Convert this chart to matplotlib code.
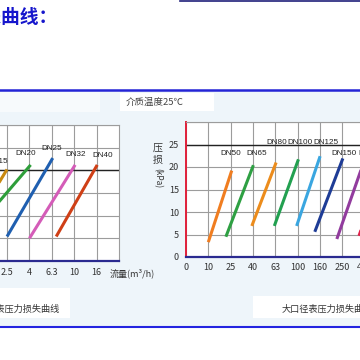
import numpy as np
import matplotlib
matplotlib.use("Agg")
import matplotlib.pyplot as plt
from matplotlib.patches import Rectangle
from matplotlib.lines import Line2D

plt.rcParams['font.family'] = ['Noto Sans CJK SC', 'DejaVu Sans']
NARROW = ['Liberation Sans Narrow', 'Liberation Sans', 'DejaVu Sans']

# ---------------- data ----------------
# small-bore meters: flow axis categories (m3/h)
small_ticks = [1, 1.6, 2.5, 4, 6.3, 10, 16, 25]
small_names = ['DN15', 'DN20', 'DN25', 'DN32', 'DN40']
small_q_start = [1.06, 1.12, 2.5, 4.0, 6.9]
small_q_end = [2.5, 4.1, 6.42, 10.2, 16.2]
small_dp_start = [5.0, 5.0, 5.4, 5.0, 5.4]
small_dp_end = [20.2, 21.2, 22.7, 21.2, 21.2]

# large-bore meters
large_ticks = [0, 10, 25, 40, 63, 100, 160, 250, 400]
large_names = ['DN50', 'DN65', 'DN80', 'DN100', 'DN125', 'DN150', 'DN200', 'DN250']
large_q_start = [10, 20.6, 39.1, 61.9, 98.2, 144, 225, 357]
large_q_end = [25.6, 40.4, 64.2, 102, 161, 254, 400, 610]
large_dp_start = [3.3, 4.5, 6.9, 6.9, 6.9, 5.6, 4.0, 4.7]
large_dp_end = [19.2, 20.4, 21.0, 21.7, 22.4, 21.9, 21.5, 21.0]

# ---------------- styles ----------------
small_colors = ['#c8880f', '#2e9e3a', '#1f5fb0', '#d45cb8', '#cf3f16']
large_colors = ['#f07d20', '#2ea043', '#ec8c1c', '#22a050', '#3aa6e0',
                '#1e3c96', '#923c9e', '#e0204a']
small_label_pos = [(1.6, 21.9), (2.85, 23.7), (3.98, 24.8), (5.06, 23.4), (6.29, 23.2)]
large_label_pos = [(2.0, 23.0), (3.16, 23.0), (4.08, 25.4), (5.1, 25.4), (6.28, 25.4),
                   (7.09, 23.0), (8.3, 23.0), (9.4, 23.0)]


def flow_to_pos(q, ticks, first=0):
    """Map a flow value onto the equally spaced category axis (log between ticks)."""
    t = np.log(np.asarray(ticks[first:], float))
    idx = np.arange(first, len(ticks), dtype=float)
    lq = np.log(q)
    if lq > t[-1]:
        return idx[-1] + (lq - t[-1]) / (t[-1] - t[-2])
    if lq < t[0]:
        return idx[0] - (t[0] - lq) / (t[1] - t[0])
    return float(np.interp(lq, t, idx))


W = H = 360
fig = plt.figure(figsize=(3.6, 3.6), dpi=100)
fig.patch.set_facecolor('white')


def fx(x):
    return x / W


def fy(y):
    return 1 - y / H


def rect(x0, y0, x1, y1, color, z=-2):
    fig.add_artist(Rectangle((fx(x0), fy(y1)), fx(x1) - fx(x0), fy(y0) - fy(y1),
                             transform=fig.transFigure, facecolor=color,
                             edgecolor='none', zorder=z))


def hline(y, x0, x1, color, lw):
    fig.add_artist(Line2D([fx(x0), fx(x1)], [fy(y), fy(y)], transform=fig.transFigure,
                          color=color, lw=lw, zorder=3))


# panel background and white text boxes
rect(0, 90, 360, 327, '#eef5fa', z=-3)
rect(0, 92, 100, 112, '#f7fafc')
rect(120, 93, 214, 111, '#ffffff')
rect(0, 288, 70, 318, '#ffffff')
rect(253, 296, 360, 318, '#ffffff')

hline(0.6, 180, 360, '#20207a', 1.2)
hline(89.5, 0, 360, '#2424d6', 1.8)
hline(327, 0, 360, '#2424e0', 1.5)

fig.text(fx(-73), fy(17), '压力损失曲线：', color='#1616cc', fontsize=13.5,
         fontweight='bold', ha='left', va='center')
fig.text(fx(155), fy(102), '介质温度25℃', color='#444444', fontsize=6.8,
         ha='center', va='center')


def style_axes(ax, dark):
    ax.set_facecolor('white')
    ax.set_ylim(0, 30)
    ax.set_yticks(np.arange(0, 31, 5))
    ax.grid(True, color='#9c9c9c', lw=0.8)
    ax.set_axisbelow(True)
    ax.axhline(dark, color='#222222', lw=1.0, zorder=1.5)
    ax.tick_params(length=0, labelsize=6.5, labelcolor='#333333')
    ax.spines['left'].set_color('#e0203a')
    ax.spines['left'].set_linewidth(1.4)
    ax.spines['bottom'].set_color('#2a2a90')
    ax.spines['bottom'].set_linewidth(1.6)
    for s in ('top', 'right'):
        ax.spines[s].set_color('#9c9c9c')
        ax.spines[s].set_linewidth(0.8)


# ---- small-bore chart ----
axL = fig.add_axes([fx(-51.2), fy(261), 170.2 / W, 136 / H])
style_axes(axL, 20)
axL.set_xlim(-0.6, 7)
axL.set_xticks(range(7))
axL.set_xticklabels([str(t) for t in small_ticks[:7]])
axL.tick_params(axis='x', pad=5)
for name, q0, q1, d0, d1, c, (lx, ly) in zip(small_names, small_q_start, small_q_end,
                                              small_dp_start, small_dp_end,
                                              small_colors, small_label_pos):
    axL.plot([flow_to_pos(q0, small_ticks), flow_to_pos(q1, small_ticks)], [d0, d1],
             color=c, lw=2.2, solid_capstyle='butt', zorder=3)
    axL.text(lx, ly, name, fontsize=5.9, family=NARROW, color='#222222',
             ha='center', va='center')
fig.text(fx(110), fy(273), '流量(m³/h)', fontsize=6.5, color='#333333',
         ha='left', va='center')
fig.text(fx(60), fy(309), '小口径表压力损失曲线', fontsize=6.6, color='#333333',
         ha='right', va='center')

# ---- large-bore chart ----
axR = fig.add_axes([fx(186), fy(257), 200.7 / W, 135 / H])
style_axes(axR, 25)
axR.set_xlim(0, 9)
axR.set_xticks(range(9))
axR.set_xticklabels([str(t) for t in large_ticks])
axR.set_yticklabels(['0', '5', '10', '15', '20', '25', ''])
axR.tick_params(axis='x', pad=4)
axR.tick_params(axis='y', pad=5)
for name, q0, q1, d0, d1, c, (lx, ly) in zip(large_names, large_q_start, large_q_end,
                                              large_dp_start, large_dp_end,
                                              large_colors, large_label_pos):
    axR.plot([flow_to_pos(q0, large_ticks, 1), flow_to_pos(q1, large_ticks, 1)], [d0, d1],
             color=c, lw=2.2, solid_capstyle='butt', zorder=3, clip_on=True)
    axR.text(lx, ly, name, fontsize=5.9, family=NARROW, color='#222222',
             ha='center', va='center')

fig.text(fx(158), fy(148), '压', fontsize=7.2, color='#333333', ha='center', va='center')
fig.text(fx(158), fy(160), '损', fontsize=7.2, color='#333333', ha='center', va='center')
fig.text(fx(158), fy(178), '(kPa)', fontsize=6.0, color='#333333', ha='center',
         va='center', rotation=-90)
fig.text(fx(282), fy(309), '大口径表压力损失曲线', fontsize=6.6, color='#333333',
         ha='left', va='center')

fig.savefig('out.png', dpi=100)
